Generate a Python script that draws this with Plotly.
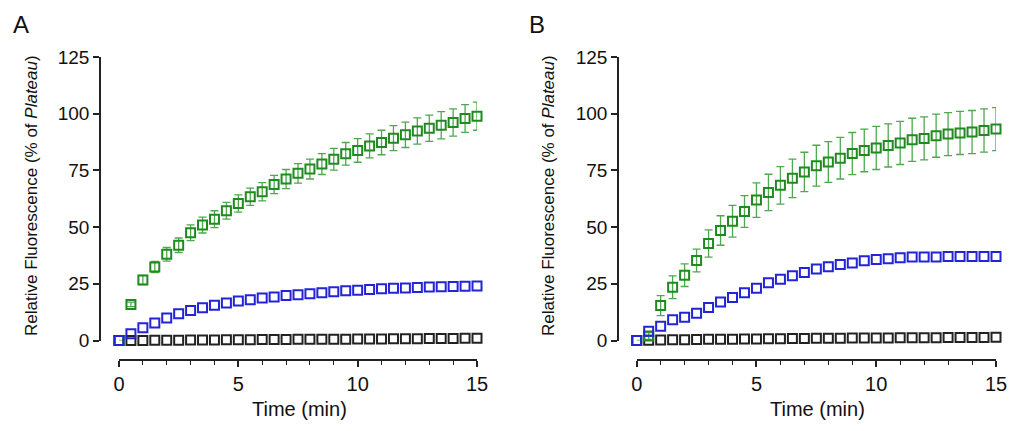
import plotly.graph_objects as go

time_min = [0, 0.5, 1, 1.5, 2, 2.5, 3, 3.5, 4, 4.5, 5, 5.5, 6, 6.5, 7, 7.5,
            8, 8.5, 9, 9.5, 10, 10.5, 11, 11.5, 12, 12.5, 13, 13.5, 14, 14.5, 15]

a_green = [0, 15.9, 26.7, 32.4, 38.0, 42.0, 47.5, 50.9, 53.5, 57.2, 60.4, 63.4, 65.6, 68.8, 71.2, 73.7,
           75.6, 77.8, 79.9, 82.3, 83.8, 85.8, 87.3, 89.2, 90.7, 92.4, 93.6, 94.9, 96.1, 97.9, 98.9]
a_green_err = [0, 1.0, 2.0, 2.5, 3.0, 3.2, 3.5, 3.5, 3.7, 3.7, 3.8, 3.8, 4.0, 4.0, 4.2, 4.3,
               4.4, 4.6, 4.8, 5.0, 5.2, 5.3, 5.4, 5.5, 5.6, 5.8, 5.8, 6.0, 6.0, 6.1, 6.2]
a_blue = [0, 3.0, 5.6, 7.7, 9.9, 11.8, 13.2, 14.4, 15.5, 16.5, 17.4, 18.0, 18.7, 19.2, 19.8, 20.2,
          20.6, 21.0, 21.5, 21.9, 22.2, 22.5, 22.8, 23.0, 23.2, 23.4, 23.6, 23.7, 23.8, 23.9, 24.0]
a_black = [0, 0, 0.05, 0.1, 0.1, 0.15, 0.2, 0.2, 0.25, 0.3, 0.3, 0.35, 0.4, 0.4, 0.45, 0.5,
           0.5, 0.55, 0.6, 0.6, 0.65, 0.7, 0.7, 0.75, 0.8, 0.8, 0.85, 0.9, 0.9, 0.95, 1.0]

b_green = [0, 2.0, 15.4, 23.5, 28.8, 35.3, 42.8, 48.5, 52.6, 56.9, 61.9, 65.3, 68.4, 71.5, 74.3, 77.1,
           78.7, 80.4, 82.4, 83.8, 84.9, 86.0, 87.1, 88.5, 89.1, 90.3, 91.0, 91.5, 91.9, 92.6, 93.2]
b_green_err = [0, 1.5, 4.4, 5.0, 5.0, 5.0, 6.0, 6.5, 7.0, 7.0, 7.6, 8.0, 8.3, 8.5, 8.7, 9.0,
               9.0, 9.2, 9.3, 9.4, 9.5, 9.5, 9.5, 9.5, 9.5, 9.5, 9.5, 9.5, 9.5, 9.5, 9.5]
b_blue = [0, 4.1, 6.3, 9.2, 10.3, 12.0, 14.5, 17.0, 19.0, 21.0, 23.0, 25.5, 27.0, 28.5, 30.0, 31.5,
          32.5, 33.5, 34.2, 35.2, 35.7, 36.0, 36.5, 36.8, 36.8, 36.8, 37.0, 37.0, 37.0, 37.0, 37.0]
b_black = [0, 0.1, 0.2, 0.3, 0.35, 0.4, 0.5, 0.55, 0.6, 0.65, 0.7, 0.75, 0.8, 0.85, 0.9, 0.95,
           1.0, 1.0, 1.05, 1.1, 1.1, 1.15, 1.2, 1.2, 1.25, 1.25, 1.3, 1.3, 1.35, 1.35, 1.4]

y_ticks = [0, 25, 50, 75, 100, 125]
x_ticks = [0, 5, 10, 15]
panel_labels = ["A", "B"]
y_title = "Relative Fluorescence (% of <i>Plateau</i>)"
x_title = "Time (min)"

PAGE_W, PAGE_H = 1024, 431
OFF = 8  # default page body margin
W, H = PAGE_W - OFF, PAGE_H - OFF
GREEN = "#1f8a1f"
GREEN_ERR = "#4fa84f"
BLUE = "#2323d8"
BLACK = "#222222"
FONT = "Liberation Sans, Arial, sans-serif"


def px_x(p):
    return (p - OFF) / W


def px_y(p):
    return (PAGE_H - p) / H


fig = go.Figure()

panels = [
    dict(x="x", y="y", green=a_green, gerr=a_green_err, blue=a_blue, black=a_black),
    dict(x="x2", y="y2", green=b_green, gerr=b_green_err, blue=b_blue, black=b_black),
]

for p in panels:
    fig.add_trace(go.Scatter(
        x=time_min, y=p["black"], xaxis=p["x"], yaxis=p["y"], mode="markers",
        marker=dict(symbol="square-open", size=9, color=BLACK, line=dict(width=2, color=BLACK)),
        cliponaxis=False, showlegend=False))
    fig.add_trace(go.Scatter(
        x=time_min, y=p["green"], xaxis=p["x"], yaxis=p["y"], mode="markers",
        marker=dict(symbol="square-open", size=9, color=GREEN, line=dict(width=2, color=GREEN)),
        error_y=dict(type="data", array=p["gerr"], color=GREEN_ERR, thickness=1.3, width=4),
        cliponaxis=False, showlegend=False))
    fig.add_trace(go.Scatter(
        x=time_min, y=p["blue"], xaxis=p["x"], yaxis=p["y"], mode="markers",
        marker=dict(symbol="square-open", size=9, color=BLUE, line=dict(width=2, color=BLUE)),
        cliponaxis=False, showlegend=False))

ydom = [px_y(340.5), px_y(57)]
common_x = dict(range=[0, 15], tickvals=x_ticks, ticktext=[str(v) for v in x_ticks],
                showline=True, linecolor=BLACK, linewidth=1.6, ticks="outside", ticklen=6,
                tickwidth=1.6, tickcolor=BLACK, showgrid=False, zeroline=False,
                tickfont=dict(family=FONT, size=20, color="#111111"),
                minor=dict(dtick=1, ticks="outside", ticklen=4, tickwidth=1.4, tickcolor=BLACK, showgrid=False),
                anchor="free", position=px_y(360), automargin=False, fixedrange=True)
common_y = dict(range=[0, 125], tickvals=y_ticks, ticktext=[str(v) for v in y_ticks],
                showline=True, linecolor=BLACK, linewidth=1.6, ticks="outside", ticklen=6,
                tickwidth=1.6, tickcolor=BLACK, showgrid=False, zeroline=False,
                tickfont=dict(family=FONT, size=19, color="#111111"),
                anchor="free", automargin=False, fixedrange=True, domain=ydom)

fig.update_layout(
    width=W, height=H,
    margin=dict(l=0, r=0, t=0, b=0),
    paper_bgcolor="white", plot_bgcolor="rgba(0,0,0,0)",
    xaxis=dict(common_x, domain=[px_x(119), px_x(477)]),
    yaxis=dict(common_y, position=px_x(100)),
    xaxis2=dict(common_x, domain=[px_x(636.7), px_x(996)]),
    yaxis2=dict(common_y, position=px_x(618)),
)

annotations = []
for lab, xc in zip(panel_labels, [21, 537]):
    annotations.append(dict(text=lab, x=px_x(xc), y=px_y(24), xref="paper", yref="paper",
                            showarrow=False, xanchor="center", yanchor="middle",
                            font=dict(family=FONT, size=24, color="#111111")))
for xc in [31, 548]:
    annotations.append(dict(text=y_title, x=px_x(xc), y=px_y(196), xref="paper", yref="paper",
                            showarrow=False, xanchor="center", yanchor="middle", textangle=-90,
                            font=dict(family=FONT, size=17, color="#111111")))
for xc in [299, 817]:
    annotations.append(dict(text=x_title, x=px_x(xc), y=px_y(409), xref="paper", yref="paper",
                            showarrow=False, xanchor="center", yanchor="middle",
                            font=dict(family=FONT, size=20, color="#111111")))
fig.update_layout(annotations=annotations)

fig.write_html("out.html")
